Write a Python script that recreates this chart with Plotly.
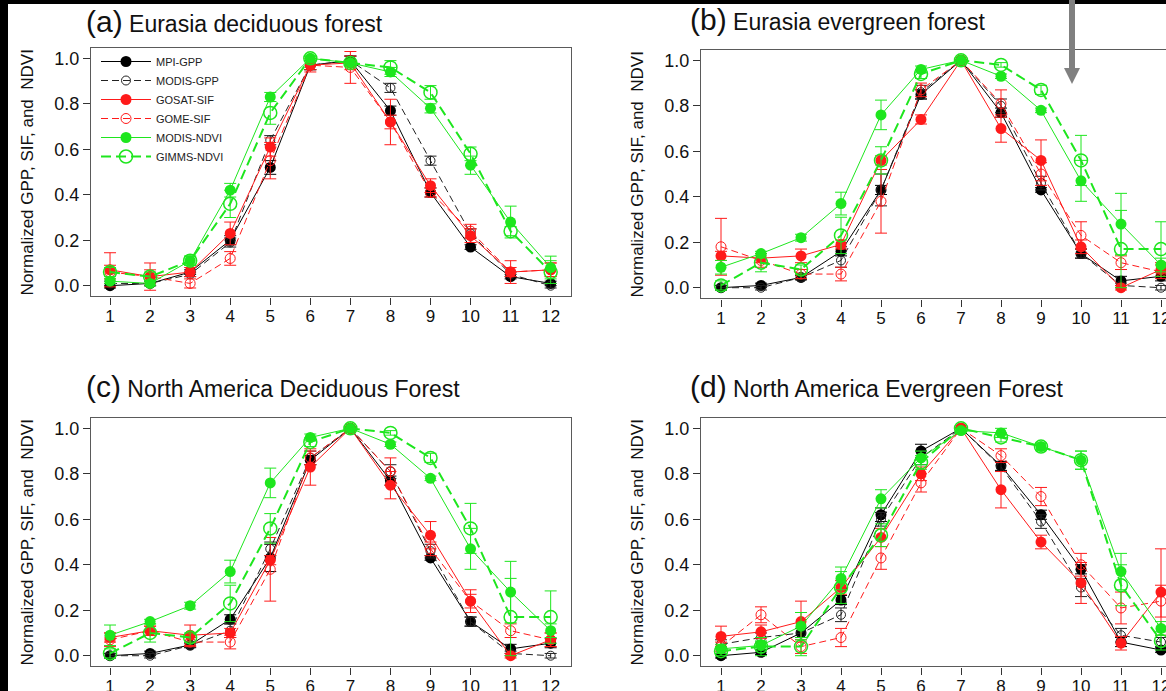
import plotly.graph_objects as go

# ---------------- data ----------------
months = [1, 2, 3, 4, 5, 6, 7, 8, 9, 10, 11, 12]
y_ticks = [0.0, 0.2, 0.4, 0.6, 0.8, 1.0]
y_tick_text = ["0.0", "0.2", "0.4", "0.6", "0.8", "1.0"]
series_names = ["MPI-GPP", "MODIS-GPP", "GOSAT-SIF", "GOME-SIF", "MODIS-NDVI", "GIMMS-NDVI"]
panel_titles = ["Eurasia deciduous forest", "Eurasia evergreen forest",
                "North America Deciduous Forest", "North America Evergreen Forest"]
panel_letters = ["(a)", "(b)", "(c)", "(d)"]
y_title = "Normalized GPP, SIF, and  NDVI"

# (a) Eurasia deciduous forest
mpi_gpp_a = [0.00, 0.01, 0.06, 0.20, 0.52, 0.97, 0.99, 0.77, 0.41, 0.17, 0.04, 0.01]
mpi_gpp_a_err = [0.01, 0.01, 0.01, 0.02, 0.03, 0.02, 0.02, 0.02, 0.02, 0.01, 0.01, 0.01]
modis_gpp_a = [0.01, 0.01, 0.05, 0.19, 0.64, 0.97, 0.99, 0.87, 0.55, 0.23, 0.05, 0.00]
modis_gpp_a_err = [0.01, 0.01, 0.01, 0.02, 0.02, 0.02, 0.02, 0.02, 0.02, 0.02, 0.01, 0.01]
gosat_sif_a = [0.07, 0.04, 0.06, 0.23, 0.61, 0.97, 0.98, 0.72, 0.44, 0.22, 0.06, 0.07]
gosat_sif_a_err = [0.075, 0.06, 0.02, 0.05, 0.04, 0.02, 0.03, 0.03, 0.03, 0.03, 0.05, 0.03]
gome_sif_a = [0.06, 0.04, 0.01, 0.12, 0.55, 0.97, 0.96, 0.72, 0.41, 0.24, 0.06, 0.07]
gome_sif_a_err = [0.03, 0.03, 0.02, 0.03, 0.08, 0.03, 0.07, 0.10, 0.02, 0.03, 0.02, 0.03]
modis_ndvi_a = [0.02, 0.01, 0.11, 0.42, 0.83, 1.00, 0.98, 0.94, 0.78, 0.53, 0.28, 0.08]
modis_ndvi_a_err = [0.01, 0.01, 0.02, 0.03, 0.02, 0.01, 0.01, 0.02, 0.02, 0.04, 0.07, 0.05]
gimms_ndvi_a = [0.06, 0.04, 0.11, 0.36, 0.76, 1.00, 0.98, 0.96, 0.85, 0.58, 0.24, 0.06]
gimms_ndvi_a_err = [0.02, 0.02, 0.02, 0.06, 0.05, 0.01, 0.01, 0.03, 0.03, 0.03, 0.02, 0.05]

# (b) Eurasia evergreen forest
mpi_gpp_b = [0.00, 0.01, 0.045, 0.16, 0.43, 0.85, 1.00, 0.77, 0.43, 0.15, 0.03, 0.05]
mpi_gpp_b_err = [0.01, 0.01, 0.01, 0.02, 0.02, 0.02, 0.00, 0.02, 0.01, 0.02, 0.02, 0.02]
modis_gpp_b = [0.00, 0.00, 0.045, 0.12, 0.43, 0.86, 1.00, 0.80, 0.46, 0.15, 0.01, 0.00]
modis_gpp_b_err = [0.01, 0.01, 0.01, 0.03, 0.07, 0.03, 0.00, 0.03, 0.03, 0.02, 0.01, 0.01]
gosat_sif_b = [0.14, 0.13, 0.14, 0.19, 0.56, 0.74, 1.00, 0.70, 0.56, 0.18, 0.00, 0.08]
gosat_sif_b_err = [0.02, 0.02, 0.03, 0.02, 0.02, 0.02, 0.00, 0.06, 0.09, 0.03, 0.01, 0.03]
gome_sif_b = [0.18, 0.12, 0.06, 0.06, 0.38, 0.87, 1.00, 0.81, 0.50, 0.23, 0.11, 0.07]
gome_sif_b_err = [0.125, 0.03, 0.02, 0.03, 0.14, 0.03, 0.00, 0.06, 0.05, 0.06, 0.03, 0.03]
modis_ndvi_b = [0.09, 0.15, 0.22, 0.37, 0.76, 0.96, 1.00, 0.93, 0.78, 0.47, 0.28, 0.10]
modis_ndvi_b_err = [0.03, 0.01, 0.015, 0.05, 0.065, 0.015, 0.00, 0.01, 0.01, 0.09, 0.135, 0.03]
gimms_ndvi_b = [0.01, 0.11, 0.08, 0.23, 0.56, 0.94, 1.00, 0.98, 0.87, 0.56, 0.17, 0.17]
gimms_ndvi_b_err = [0.02, 0.04, 0.02, 0.08, 0.06, 0.02, 0.00, 0.01, 0.02, 0.11, 0.17, 0.12]

# (c) North America deciduous forest
mpi_gpp_c = [0.00, 0.01, 0.047, 0.16, 0.43, 0.86, 1.00, 0.77, 0.43, 0.15, 0.03, 0.055]
mpi_gpp_c_err = [0.01, 0.01, 0.01, 0.02, 0.06, 0.02, 0.00, 0.02, 0.01, 0.02, 0.02, 0.02]
modis_gpp_c = [0.00, 0.00, 0.045, 0.11, 0.47, 0.87, 1.00, 0.81, 0.46, 0.15, 0.01, 0.00]
modis_gpp_c_err = [0.01, 0.01, 0.01, 0.03, 0.03, 0.03, 0.00, 0.03, 0.03, 0.02, 0.01, 0.01]
gosat_sif_c = [0.08, 0.11, 0.09, 0.10, 0.42, 0.83, 1.00, 0.75, 0.53, 0.24, 0.00, 0.07]
gosat_sif_c_err = [0.02, 0.02, 0.045, 0.02, 0.02, 0.08, 0.00, 0.06, 0.06, 0.05, 0.01, 0.03]
gome_sif_c = [0.07, 0.11, 0.06, 0.06, 0.38, 0.87, 1.00, 0.81, 0.47, 0.24, 0.11, 0.07]
gome_sif_c_err = [0.03, 0.02, 0.02, 0.03, 0.14, 0.03, 0.00, 0.06, 0.03, 0.03, 0.03, 0.03]
modis_ndvi_c = [0.09, 0.15, 0.22, 0.37, 0.76, 0.96, 1.00, 0.93, 0.78, 0.47, 0.28, 0.11]
modis_ndvi_c_err = [0.045, 0.01, 0.015, 0.05, 0.065, 0.015, 0.00, 0.01, 0.01, 0.09, 0.135, 0.03]
gimms_ndvi_c = [0.01, 0.10, 0.08, 0.23, 0.56, 0.94, 1.00, 0.98, 0.87, 0.56, 0.17, 0.17]
gimms_ndvi_c_err = [0.02, 0.04, 0.02, 0.08, 0.065, 0.02, 0.00, 0.01, 0.02, 0.11, 0.17, 0.115]

# (d) North America evergreen forest
mpi_gpp_d = [0.00, 0.015, 0.10, 0.245, 0.62, 0.90, 1.00, 0.835, 0.62, 0.38, 0.06, 0.025]
mpi_gpp_d_err = [0.01, 0.01, 0.02, 0.02, 0.03, 0.03, 0.00, 0.02, 0.02, 0.02, 0.02, 0.01]
modis_gpp_d = [0.05, 0.08, 0.10, 0.18, 0.60, 0.87, 1.00, 0.83, 0.59, 0.30, 0.09, 0.06]
modis_gpp_d_err = [0.02, 0.02, 0.02, 0.03, 0.03, 0.03, 0.00, 0.02, 0.03, 0.04, 0.03, 0.02]
gosat_sif_d = [0.085, 0.105, 0.15, 0.30, 0.52, 0.80, 1.00, 0.73, 0.50, 0.32, 0.055, 0.28]
gosat_sif_d_err = [0.045, 0.03, 0.09, 0.03, 0.04, 0.03, 0.00, 0.08, 0.03, 0.09, 0.03, 0.19]
gome_sif_d = [0.04, 0.18, 0.04, 0.08, 0.43, 0.76, 1.00, 0.88, 0.70, 0.40, 0.21, 0.24]
gome_sif_d_err = [0.02, 0.035, 0.03, 0.04, 0.05, 0.04, 0.00, 0.03, 0.04, 0.05, 0.07, 0.07]
modis_ndvi_d = [0.03, 0.045, 0.13, 0.34, 0.69, 0.87, 0.99, 0.98, 0.92, 0.86, 0.37, 0.12]
modis_ndvi_d_err = [0.02, 0.02, 0.06, 0.05, 0.04, 0.03, 0.00, 0.02, 0.015, 0.04, 0.08, 0.03]
gimms_ndvi_d = [0.02, 0.04, 0.04, 0.30, 0.53, 0.85, 1.00, 0.96, 0.92, 0.86, 0.31, 0.065]
gimms_ndvi_d_err = [0.02, 0.04, 0.04, 0.07, 0.05, 0.03, 0.00, 0.02, 0.015, 0.04, 0.09, 0.04]

panels = [
    [(mpi_gpp_a, mpi_gpp_a_err), (modis_gpp_a, modis_gpp_a_err), (gosat_sif_a, gosat_sif_a_err),
     (gome_sif_a, gome_sif_a_err), (modis_ndvi_a, modis_ndvi_a_err), (gimms_ndvi_a, gimms_ndvi_a_err)],
    [(mpi_gpp_b, mpi_gpp_b_err), (modis_gpp_b, modis_gpp_b_err), (gosat_sif_b, gosat_sif_b_err),
     (gome_sif_b, gome_sif_b_err), (modis_ndvi_b, modis_ndvi_b_err), (gimms_ndvi_b, gimms_ndvi_b_err)],
    [(mpi_gpp_c, mpi_gpp_c_err), (modis_gpp_c, modis_gpp_c_err), (gosat_sif_c, gosat_sif_c_err),
     (gome_sif_c, gome_sif_c_err), (modis_ndvi_c, modis_ndvi_c_err), (gimms_ndvi_c, gimms_ndvi_c_err)],
    [(mpi_gpp_d, mpi_gpp_d_err), (modis_gpp_d, modis_gpp_d_err), (gosat_sif_d, gosat_sif_d_err),
     (gome_sif_d, gome_sif_d_err), (modis_ndvi_d, modis_ndvi_d_err), (gimms_ndvi_d, gimms_ndvi_d_err)],
]

# ---------------- styles ----------------
BLACK = "#000000"
RED = "#ff1a1a"
GREEN = "#1ee61e"
STYLES = {
    "MPI-GPP":    dict(color=BLACK, symbol="circle", size=11, dash="solid", lw=1.0, mlw=0),
    "MODIS-GPP":  dict(color="#222222", symbol="circle-open", size=9, dash="7px,4px", lw=1.0, mlw=1.0),
    "GOSAT-SIF":  dict(color=RED, symbol="circle", size=11, dash="solid", lw=1.0, mlw=0),
    "GOME-SIF":   dict(color=RED, symbol="circle-open", size=10, dash="7px,4px", lw=1.0, mlw=1.0),
    "MODIS-NDVI": dict(color=GREEN, symbol="circle", size=11, dash="solid", lw=1.0, mlw=0),
    "GIMMS-NDVI": dict(color=GREEN, symbol="circle-open", size=13, dash="10px,5px", lw=2.0, mlw=1.5),
}

W, H = 1166, 691


def px(x):
    return x / W


def py(y):
    return 1 - y / H


# panel geometry (pixels)
GEOM = [
    dict(x0=91, x1=570.5, xr=[0.525, 12.495], y0=48.1, y1=296.4),
    dict(x0=701, x1=W, xr=[0.5, 12.125], y0=50.1, y1=298.4),
    dict(x0=91, x1=570.5, xr=[0.525, 12.495], y0=418.1, y1=666.4),
    dict(x0=701, x1=W, xr=[0.5, 12.125], y0=418.1, y1=666.4),
]
YR = [-0.047, 1.045]
FONT = "Liberation Sans, Arial, sans-serif"

fig = go.Figure()

for p, pdata in enumerate(panels):
    ax = "" if p == 0 else str(p + 1)
    for name, (vals, errs) in zip(series_names, pdata):
        st = STYLES[name]
        fig.add_trace(go.Scatter(
            x=months, y=vals, name=name,
            xaxis="x" + ax, yaxis="y" + ax,
            mode="lines+markers",
            line=dict(color=st["color"], width=st["lw"], dash=st["dash"]),
            marker=dict(symbol=st["symbol"], size=st["size"], color=st["color"],
                        line=dict(color=st["color"], width=st["mlw"])),
            error_y=dict(type="data", array=errs, visible=True, color=st["color"],
                         thickness=1, width=6),
            showlegend=(p == 0),
            legendrank=series_names.index(name),
        ))

layout = dict(
    width=W, height=H,
    margin=dict(l=0, r=0, t=0, b=0, autoexpand=False),
    paper_bgcolor="white", plot_bgcolor="white",
    font=dict(family=FONT, color="#111111"),
    legend=dict(x=px(96), y=py(47), xanchor="left", yanchor="top",
                bgcolor="rgba(0,0,0,0)", borderwidth=0,
                font=dict(size=11, family=FONT, color="#222222"),
                itemwidth=50, tracegroupgap=0),
    showlegend=True,
)

for p, g in enumerate(GEOM):
    ax = "" if p == 0 else str(p + 1)
    full_box = g["x1"] < W
    layout["xaxis" + ax] = dict(
        domain=[px(g["x0"]), px(g["x1"])], range=g["xr"], automargin=False,
        anchor="y" + ax, tickvals=months, ticks="outside", ticklen=7,
        tickcolor="#333333", tickfont=dict(size=17, color="#111111"),
        ticklabelstandoff=-3, ticklabeloverflow="allow",
        showline=True, linecolor="#5a5a5a", linewidth=1.2, mirror=True,
        showgrid=False, zeroline=False, fixedrange=True,
    )
    layout["yaxis" + ax] = dict(
        domain=[py(g["y1"]), py(g["y0"])], range=YR, automargin=False,
        anchor="x" + ax, tickvals=y_ticks, ticktext=y_tick_text, ticks="outside",
        ticklen=7, tickcolor="#333333", tickfont=dict(size=18, color="#111111"),
        showline=True, linecolor="#5a5a5a", linewidth=1.2, mirror=full_box,
        showgrid=False, zeroline=False, fixedrange=True,
        title=dict(text=y_title, font=dict(size=17, color="#111111"), standoff=16),
    )

fig.update_layout(**layout)

# panel titles
TITLE_POS = [(84, 40), (688, 38), (84, 405), (688, 405)]
for (tx, ty), letter, title in zip(TITLE_POS, panel_letters, panel_titles):
    fig.add_annotation(
        x=px(tx), y=py(ty), xref="paper", yref="paper", xanchor="left", yanchor="bottom",
        text="<span style='font-size:30px'>" + letter + "</span> " + title,
        showarrow=False, font=dict(size=23, family=FONT, color="#111111"),
    )

# frame remnants of the cropped image
fig.add_shape(type="rect", xref="paper", yref="paper", x0=0, x1=px(8), y0=0, y1=1,
              fillcolor="black", line=dict(width=0), layer="above")
fig.add_shape(type="rect", xref="paper", yref="paper", x0=0, x1=1, y0=py(4), y1=1,
              fillcolor="black", line=dict(width=0), layer="above")
# gray arrow in panel (b)
arrow = (f"M {px(1069)} {py(0)} L {px(1075)} {py(0)} L {px(1075)} {py(68)} "
         f"L {px(1080)} {py(68)} L {px(1072)} {py(84)} L {px(1064)} {py(68)} "
         f"L {px(1069)} {py(68)} Z")
fig.add_shape(type="path", xref="paper", yref="paper", path=arrow,
              fillcolor="#808080", line=dict(width=0), layer="above")

fig.write_html("out.html")
